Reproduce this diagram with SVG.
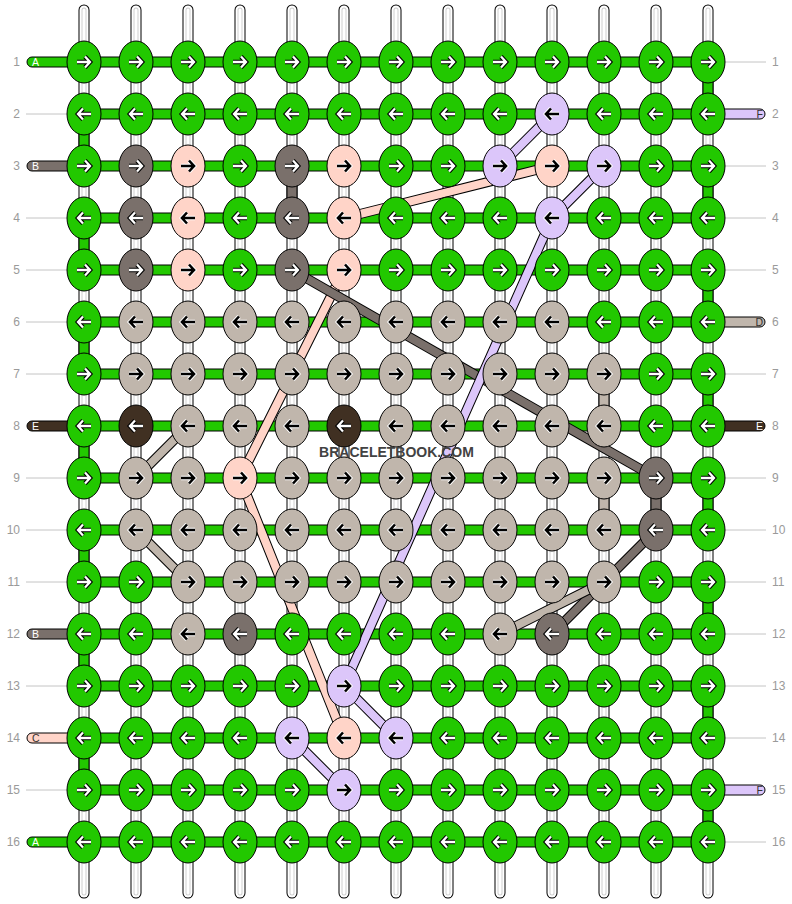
<svg xmlns="http://www.w3.org/2000/svg" xmlns:xlink="http://www.w3.org/1999/xlink" width="792" height="904" viewBox="0 0 792 904">
<style>
text{font-family:"Liberation Sans",Arial,sans-serif}
.num{font-size:12px;fill:#9a9a9a}
.sl{font-size:10.5px}
.ln{stroke:#c4c4c4;stroke-width:1}
.G{fill:#22c800}.B{fill:#7a706b}.C{fill:#ffd4c8}.D{fill:#c0b6ac}.E{fill:#403022}.F{fill:#dcc6fa}
.o{fill:none;stroke:#000;stroke-width:10}
.cB{fill:none;stroke:#7a706b;stroke-width:8}.cC{fill:none;stroke:#ffd4c8;stroke-width:8}.cD{fill:none;stroke:#c0b6ac;stroke-width:8}.cF{fill:none;stroke:#dcc6fa;stroke-width:8}
.wm{font-size:14px;font-weight:bold;fill:#424242}
</style>
<defs>
<g id="vs"><line x1="0" x2="0" y1="10" y2="893" stroke="#000" stroke-width="11" stroke-linecap="round"/><line x1="0" x2="0" y1="10" y2="893" stroke="#fff" stroke-width="9" stroke-linecap="round"/><line x1="0" x2="0" y1="10" y2="893" stroke="#cfcfcf" stroke-width="5" stroke-linecap="round"/><line x1="0" x2="0" y1="10" y2="893" stroke="#fff" stroke-width="3" stroke-linecap="round"/></g>
<rect id="vc" x="-5" y="0" width="10" height="52" stroke="#000" stroke-width="1"/>
<rect id="hb" x="84" y="-5" width="624" height="10" stroke="#000" stroke-width="1"/>
<path id="sL" d="M84,-5H32a5,5 0 0 0 0,10H84z" stroke="#000" stroke-width="1"/>
<path id="sR" d="M708,-5H760a5,5 0 0 1 0,10H708z" stroke="#000" stroke-width="1"/>
<ellipse id="kn" cx="0" cy="0" rx="17" ry="21" stroke="#000" stroke-width="1"/>
<path id="pr" d="M-7,0H5M1,-5.5L6,0L1,5.5" fill="none"/>
<path id="pl" d="M7,0H-5M-1,-5.5L-6,0L-1,5.5" fill="none"/>
<g id="rW"><use href="#pr" stroke="#000" stroke-width="4.5"/><use href="#pr" stroke="#fff" stroke-width="2.3"/></g>
<g id="rK"><use href="#pr" stroke="#fff" stroke-width="4.5"/><use href="#pr" stroke="#000" stroke-width="2.6"/></g>
<g id="lW"><use href="#pl" stroke="#000" stroke-width="4.5"/><use href="#pl" stroke="#fff" stroke-width="2.3"/></g>
<g id="lK"><use href="#pl" stroke="#fff" stroke-width="4.5"/><use href="#pl" stroke="#000" stroke-width="2.6"/></g>
</defs>
<rect width="792" height="904" fill="#fff"/>
<g id="strings">
<use href="#vs" x="84"/><use href="#vs" x="136"/><use href="#vs" x="188"/><use href="#vs" x="240"/><use href="#vs" x="292"/><use href="#vs" x="344"/><use href="#vs" x="396"/><use href="#vs" x="448"/><use href="#vs" x="500"/><use href="#vs" x="552"/><use href="#vs" x="604"/><use href="#vs" x="656"/><use href="#vs" x="708"/>
</g>
<g id="turns">
<use href="#vc" class="G" x="708" y="62"/><use href="#vc" class="G" x="708" y="166"/><use href="#vc" class="G" x="708" y="270"/><use href="#vc" class="G" x="708" y="374"/><use href="#vc" class="G" x="708" y="478"/><use href="#vc" class="G" x="708" y="582"/><use href="#vc" class="G" x="708" y="686"/><use href="#vc" class="G" x="708" y="790"/>
<use href="#vc" class="G" x="84" y="114"/><use href="#vc" class="G" x="84" y="218"/><use href="#vc" class="G" x="84" y="322"/><use href="#vc" class="G" x="84" y="426"/><use href="#vc" class="G" x="84" y="530"/><use href="#vc" class="G" x="84" y="634"/><use href="#vc" class="G" x="84" y="738"/>
<use href="#vc" class="B" x="292" y="166"/><use href="#vc" class="D" x="604" y="374"/><use href="#vc" class="D" x="604" y="478"/><use href="#vc" class="B" x="656" y="478"/>
</g>
<g id="rows">
<use href="#hb" class="G" y="62"/><use href="#hb" class="G" y="114"/><use href="#hb" class="G" y="166"/><use href="#hb" class="G" y="218"/><use href="#hb" class="G" y="270"/><use href="#hb" class="G" y="322"/><use href="#hb" class="G" y="374"/><use href="#hb" class="G" y="426"/><use href="#hb" class="G" y="478"/><use href="#hb" class="G" y="530"/><use href="#hb" class="G" y="582"/><use href="#hb" class="G" y="634"/><use href="#hb" class="G" y="686"/><use href="#hb" class="G" y="738"/><use href="#hb" class="G" y="790"/><use href="#hb" class="G" y="842"/>
</g>
<g id="stubs">
<use href="#sL" class="G" y="62"/><use href="#sL" class="B" y="166"/><use href="#sL" class="E" y="426"/><use href="#sL" class="B" y="634"/><use href="#sL" class="C" y="738"/><use href="#sL" class="G" y="842"/>
<use href="#sR" class="F" y="114"/><use href="#sR" class="D" y="322"/><use href="#sR" class="E" y="426"/><use href="#sR" class="F" y="790"/>
<text class="sl" x="32" y="66" fill="#fff">A</text><text class="sl" x="32" y="170" fill="#fff">B</text><text class="sl" x="32" y="430" fill="#fff">E</text><text class="sl" x="32" y="638" fill="#fff">B</text><text class="sl" x="32" y="742" fill="#333">C</text><text class="sl" x="32" y="846" fill="#fff">A</text>
<text class="sl" x="763" y="118" fill="#333" text-anchor="end">F</text><text class="sl" x="763" y="326" fill="#333" text-anchor="end">D</text><text class="sl" x="763" y="430" fill="#fff" text-anchor="end">E</text><text class="sl" x="763" y="794" fill="#333" text-anchor="end">F</text>
</g>
<g id="rowlines">
<path class="ln" d="M26,114H67M26,218H67M26,270H67M26,322H67M26,374H67M26,478H67M26,530H67M26,582H67M26,686H67M26,790H67"/>
<path class="ln" d="M725,62H766M725,166H766M725,218H766M725,270H766M725,374H766M725,478H766M725,530H766M725,582H766M725,634H766M725,686H766M725,738H766M725,842H766"/>
</g>
<g id="rownumbers">
<text class="num" x="20" y="66" text-anchor="end">1</text><text class="num" x="20" y="118" text-anchor="end">2</text><text class="num" x="20" y="170" text-anchor="end">3</text><text class="num" x="20" y="222" text-anchor="end">4</text><text class="num" x="20" y="274" text-anchor="end">5</text><text class="num" x="20" y="326" text-anchor="end">6</text><text class="num" x="20" y="378" text-anchor="end">7</text><text class="num" x="20" y="430" text-anchor="end">8</text><text class="num" x="20" y="482" text-anchor="end">9</text><text class="num" x="20" y="534" text-anchor="end">10</text><text class="num" x="20" y="586" text-anchor="end">11</text><text class="num" x="20" y="638" text-anchor="end">12</text><text class="num" x="20" y="690" text-anchor="end">13</text><text class="num" x="20" y="742" text-anchor="end">14</text><text class="num" x="20" y="794" text-anchor="end">15</text><text class="num" x="20" y="846" text-anchor="end">16</text>
<text class="num" x="772" y="66">1</text><text class="num" x="772" y="118">2</text><text class="num" x="772" y="170">3</text><text class="num" x="772" y="222">4</text><text class="num" x="772" y="274">5</text><text class="num" x="772" y="326">6</text><text class="num" x="772" y="378">7</text><text class="num" x="772" y="430">8</text><text class="num" x="772" y="482">9</text><text class="num" x="772" y="534">10</text><text class="num" x="772" y="586">11</text><text class="num" x="772" y="638">12</text><text class="num" x="772" y="690">13</text><text class="num" x="772" y="742">14</text><text class="num" x="772" y="794">15</text><text class="num" x="772" y="846">16</text>
</g>
<g id="connectors">
<path class="o" d="M552,166L344,218"/><path class="cC" d="M552,166L344,218"/>
<path class="o" d="M344,270L240,478L344,738"/><path class="cC" d="M344,270L240,478L344,738"/>
<path class="o" d="M292,270L656,478"/><path class="cB" d="M292,270L656,478"/>
<path class="o" d="M656,530L552,634"/><path class="cB" d="M656,530L552,634"/>
<path class="o" d="M188,426L136,478"/><path class="cD" d="M188,426L136,478"/>
<path class="o" d="M136,530L188,582"/><path class="cD" d="M136,530L188,582"/>
<path class="o" d="M604,582L500,634"/><path class="cD" d="M604,582L500,634"/>
<path class="o" d="M552,114L500,166"/><path class="cF" d="M552,114L500,166"/>
<path class="o" d="M604,166L552,218L344,686L396,738"/><path class="cF" d="M604,166L552,218L344,686L396,738"/>
<path class="o" d="M292,738L344,790"/><path class="cF" d="M292,738L344,790"/>
</g>
<g id="knots">
<g id="k1-1" class="G" transform="translate(84,62)"><use href="#kn"/><use href="#rW"/></g>
<g id="k1-2" class="G" transform="translate(136,62)"><use href="#kn"/><use href="#rW"/></g>
<g id="k1-3" class="G" transform="translate(188,62)"><use href="#kn"/><use href="#rW"/></g>
<g id="k1-4" class="G" transform="translate(240,62)"><use href="#kn"/><use href="#rW"/></g>
<g id="k1-5" class="G" transform="translate(292,62)"><use href="#kn"/><use href="#rW"/></g>
<g id="k1-6" class="G" transform="translate(344,62)"><use href="#kn"/><use href="#rW"/></g>
<g id="k1-7" class="G" transform="translate(396,62)"><use href="#kn"/><use href="#rW"/></g>
<g id="k1-8" class="G" transform="translate(448,62)"><use href="#kn"/><use href="#rW"/></g>
<g id="k1-9" class="G" transform="translate(500,62)"><use href="#kn"/><use href="#rW"/></g>
<g id="k1-10" class="G" transform="translate(552,62)"><use href="#kn"/><use href="#rW"/></g>
<g id="k1-11" class="G" transform="translate(604,62)"><use href="#kn"/><use href="#rW"/></g>
<g id="k1-12" class="G" transform="translate(656,62)"><use href="#kn"/><use href="#rW"/></g>
<g id="k1-13" class="G" transform="translate(708,62)"><use href="#kn"/><use href="#rW"/></g>
<g id="k2-1" class="G" transform="translate(84,114)"><use href="#kn"/><use href="#lW"/></g>
<g id="k2-2" class="G" transform="translate(136,114)"><use href="#kn"/><use href="#lW"/></g>
<g id="k2-3" class="G" transform="translate(188,114)"><use href="#kn"/><use href="#lW"/></g>
<g id="k2-4" class="G" transform="translate(240,114)"><use href="#kn"/><use href="#lW"/></g>
<g id="k2-5" class="G" transform="translate(292,114)"><use href="#kn"/><use href="#lW"/></g>
<g id="k2-6" class="G" transform="translate(344,114)"><use href="#kn"/><use href="#lW"/></g>
<g id="k2-7" class="G" transform="translate(396,114)"><use href="#kn"/><use href="#lW"/></g>
<g id="k2-8" class="G" transform="translate(448,114)"><use href="#kn"/><use href="#lW"/></g>
<g id="k2-9" class="G" transform="translate(500,114)"><use href="#kn"/><use href="#lW"/></g>
<g id="k2-10" class="F" transform="translate(552,114)"><use href="#kn"/><use href="#lK"/></g>
<g id="k2-11" class="G" transform="translate(604,114)"><use href="#kn"/><use href="#lW"/></g>
<g id="k2-12" class="G" transform="translate(656,114)"><use href="#kn"/><use href="#lW"/></g>
<g id="k2-13" class="G" transform="translate(708,114)"><use href="#kn"/><use href="#lW"/></g>
<g id="k3-1" class="G" transform="translate(84,166)"><use href="#kn"/><use href="#rW"/></g>
<g id="k3-2" class="B" transform="translate(136,166)"><use href="#kn"/><use href="#rW"/></g>
<g id="k3-3" class="C" transform="translate(188,166)"><use href="#kn"/><use href="#rK"/></g>
<g id="k3-4" class="G" transform="translate(240,166)"><use href="#kn"/><use href="#rW"/></g>
<g id="k3-5" class="B" transform="translate(292,166)"><use href="#kn"/><use href="#rW"/></g>
<g id="k3-6" class="C" transform="translate(344,166)"><use href="#kn"/><use href="#rK"/></g>
<g id="k3-7" class="G" transform="translate(396,166)"><use href="#kn"/><use href="#rW"/></g>
<g id="k3-8" class="G" transform="translate(448,166)"><use href="#kn"/><use href="#rW"/></g>
<g id="k3-9" class="F" transform="translate(500,166)"><use href="#kn"/><use href="#rK"/></g>
<g id="k3-10" class="C" transform="translate(552,166)"><use href="#kn"/><use href="#rK"/></g>
<g id="k3-11" class="F" transform="translate(604,166)"><use href="#kn"/><use href="#rK"/></g>
<g id="k3-12" class="G" transform="translate(656,166)"><use href="#kn"/><use href="#rW"/></g>
<g id="k3-13" class="G" transform="translate(708,166)"><use href="#kn"/><use href="#rW"/></g>
<g id="k4-1" class="G" transform="translate(84,218)"><use href="#kn"/><use href="#lW"/></g>
<g id="k4-2" class="B" transform="translate(136,218)"><use href="#kn"/><use href="#lW"/></g>
<g id="k4-3" class="C" transform="translate(188,218)"><use href="#kn"/><use href="#lK"/></g>
<g id="k4-4" class="G" transform="translate(240,218)"><use href="#kn"/><use href="#lW"/></g>
<g id="k4-5" class="B" transform="translate(292,218)"><use href="#kn"/><use href="#lW"/></g>
<g id="k4-6" class="C" transform="translate(344,218)"><use href="#kn"/><use href="#lK"/></g>
<g id="k4-7" class="G" transform="translate(396,218)"><use href="#kn"/><use href="#lW"/></g>
<g id="k4-8" class="G" transform="translate(448,218)"><use href="#kn"/><use href="#lW"/></g>
<g id="k4-9" class="G" transform="translate(500,218)"><use href="#kn"/><use href="#lW"/></g>
<g id="k4-10" class="F" transform="translate(552,218)"><use href="#kn"/><use href="#lK"/></g>
<g id="k4-11" class="G" transform="translate(604,218)"><use href="#kn"/><use href="#lW"/></g>
<g id="k4-12" class="G" transform="translate(656,218)"><use href="#kn"/><use href="#lW"/></g>
<g id="k4-13" class="G" transform="translate(708,218)"><use href="#kn"/><use href="#lW"/></g>
<g id="k5-1" class="G" transform="translate(84,270)"><use href="#kn"/><use href="#rW"/></g>
<g id="k5-2" class="B" transform="translate(136,270)"><use href="#kn"/><use href="#rW"/></g>
<g id="k5-3" class="C" transform="translate(188,270)"><use href="#kn"/><use href="#rK"/></g>
<g id="k5-4" class="G" transform="translate(240,270)"><use href="#kn"/><use href="#rW"/></g>
<g id="k5-5" class="B" transform="translate(292,270)"><use href="#kn"/><use href="#rW"/></g>
<g id="k5-6" class="C" transform="translate(344,270)"><use href="#kn"/><use href="#rK"/></g>
<g id="k5-7" class="G" transform="translate(396,270)"><use href="#kn"/><use href="#rW"/></g>
<g id="k5-8" class="G" transform="translate(448,270)"><use href="#kn"/><use href="#rW"/></g>
<g id="k5-9" class="G" transform="translate(500,270)"><use href="#kn"/><use href="#rW"/></g>
<g id="k5-10" class="G" transform="translate(552,270)"><use href="#kn"/><use href="#rW"/></g>
<g id="k5-11" class="G" transform="translate(604,270)"><use href="#kn"/><use href="#rW"/></g>
<g id="k5-12" class="G" transform="translate(656,270)"><use href="#kn"/><use href="#rW"/></g>
<g id="k5-13" class="G" transform="translate(708,270)"><use href="#kn"/><use href="#rW"/></g>
<g id="k6-1" class="G" transform="translate(84,322)"><use href="#kn"/><use href="#lW"/></g>
<g id="k6-2" class="D" transform="translate(136,322)"><use href="#kn"/><use href="#lK"/></g>
<g id="k6-3" class="D" transform="translate(188,322)"><use href="#kn"/><use href="#lK"/></g>
<g id="k6-4" class="D" transform="translate(240,322)"><use href="#kn"/><use href="#lK"/></g>
<g id="k6-5" class="D" transform="translate(292,322)"><use href="#kn"/><use href="#lK"/></g>
<g id="k6-6" class="D" transform="translate(344,322)"><use href="#kn"/><use href="#lK"/></g>
<g id="k6-7" class="D" transform="translate(396,322)"><use href="#kn"/><use href="#lK"/></g>
<g id="k6-8" class="D" transform="translate(448,322)"><use href="#kn"/><use href="#lK"/></g>
<g id="k6-9" class="D" transform="translate(500,322)"><use href="#kn"/><use href="#lK"/></g>
<g id="k6-10" class="D" transform="translate(552,322)"><use href="#kn"/><use href="#lK"/></g>
<g id="k6-11" class="G" transform="translate(604,322)"><use href="#kn"/><use href="#lW"/></g>
<g id="k6-12" class="G" transform="translate(656,322)"><use href="#kn"/><use href="#lW"/></g>
<g id="k6-13" class="G" transform="translate(708,322)"><use href="#kn"/><use href="#lW"/></g>
<g id="k7-1" class="G" transform="translate(84,374)"><use href="#kn"/><use href="#rW"/></g>
<g id="k7-2" class="D" transform="translate(136,374)"><use href="#kn"/><use href="#rK"/></g>
<g id="k7-3" class="D" transform="translate(188,374)"><use href="#kn"/><use href="#rK"/></g>
<g id="k7-4" class="D" transform="translate(240,374)"><use href="#kn"/><use href="#rK"/></g>
<g id="k7-5" class="D" transform="translate(292,374)"><use href="#kn"/><use href="#rK"/></g>
<g id="k7-6" class="D" transform="translate(344,374)"><use href="#kn"/><use href="#rK"/></g>
<g id="k7-7" class="D" transform="translate(396,374)"><use href="#kn"/><use href="#rK"/></g>
<g id="k7-8" class="D" transform="translate(448,374)"><use href="#kn"/><use href="#rK"/></g>
<g id="k7-9" class="D" transform="translate(500,374)"><use href="#kn"/><use href="#rK"/></g>
<g id="k7-10" class="D" transform="translate(552,374)"><use href="#kn"/><use href="#rK"/></g>
<g id="k7-11" class="D" transform="translate(604,374)"><use href="#kn"/><use href="#rK"/></g>
<g id="k7-12" class="G" transform="translate(656,374)"><use href="#kn"/><use href="#rW"/></g>
<g id="k7-13" class="G" transform="translate(708,374)"><use href="#kn"/><use href="#rW"/></g>
<g id="k8-1" class="G" transform="translate(84,426)"><use href="#kn"/><use href="#lW"/></g>
<g id="k8-2" class="E" transform="translate(136,426)"><use href="#kn"/><use href="#lW"/></g>
<g id="k8-3" class="D" transform="translate(188,426)"><use href="#kn"/><use href="#lK"/></g>
<g id="k8-4" class="D" transform="translate(240,426)"><use href="#kn"/><use href="#lK"/></g>
<g id="k8-5" class="D" transform="translate(292,426)"><use href="#kn"/><use href="#lK"/></g>
<g id="k8-6" class="E" transform="translate(344,426)"><use href="#kn"/><use href="#lW"/></g>
<g id="k8-7" class="D" transform="translate(396,426)"><use href="#kn"/><use href="#lK"/></g>
<g id="k8-8" class="D" transform="translate(448,426)"><use href="#kn"/><use href="#lK"/></g>
<g id="k8-9" class="D" transform="translate(500,426)"><use href="#kn"/><use href="#lK"/></g>
<g id="k8-10" class="D" transform="translate(552,426)"><use href="#kn"/><use href="#lK"/></g>
<g id="k8-11" class="D" transform="translate(604,426)"><use href="#kn"/><use href="#lK"/></g>
<g id="k8-12" class="G" transform="translate(656,426)"><use href="#kn"/><use href="#lW"/></g>
<g id="k8-13" class="G" transform="translate(708,426)"><use href="#kn"/><use href="#lW"/></g>
<g id="k9-1" class="G" transform="translate(84,478)"><use href="#kn"/><use href="#rW"/></g>
<g id="k9-2" class="D" transform="translate(136,478)"><use href="#kn"/><use href="#rK"/></g>
<g id="k9-3" class="D" transform="translate(188,478)"><use href="#kn"/><use href="#rK"/></g>
<g id="k9-4" class="C" transform="translate(240,478)"><use href="#kn"/><use href="#rK"/></g>
<g id="k9-5" class="D" transform="translate(292,478)"><use href="#kn"/><use href="#rK"/></g>
<g id="k9-6" class="D" transform="translate(344,478)"><use href="#kn"/><use href="#rK"/></g>
<g id="k9-7" class="D" transform="translate(396,478)"><use href="#kn"/><use href="#rK"/></g>
<g id="k9-8" class="D" transform="translate(448,478)"><use href="#kn"/><use href="#rK"/></g>
<g id="k9-9" class="D" transform="translate(500,478)"><use href="#kn"/><use href="#rK"/></g>
<g id="k9-10" class="D" transform="translate(552,478)"><use href="#kn"/><use href="#rK"/></g>
<g id="k9-11" class="D" transform="translate(604,478)"><use href="#kn"/><use href="#rK"/></g>
<g id="k9-12" class="B" transform="translate(656,478)"><use href="#kn"/><use href="#rW"/></g>
<g id="k9-13" class="G" transform="translate(708,478)"><use href="#kn"/><use href="#rW"/></g>
<g id="k10-1" class="G" transform="translate(84,530)"><use href="#kn"/><use href="#lW"/></g>
<g id="k10-2" class="D" transform="translate(136,530)"><use href="#kn"/><use href="#lK"/></g>
<g id="k10-3" class="D" transform="translate(188,530)"><use href="#kn"/><use href="#lK"/></g>
<g id="k10-4" class="D" transform="translate(240,530)"><use href="#kn"/><use href="#lK"/></g>
<g id="k10-5" class="D" transform="translate(292,530)"><use href="#kn"/><use href="#lK"/></g>
<g id="k10-6" class="D" transform="translate(344,530)"><use href="#kn"/><use href="#lK"/></g>
<g id="k10-7" class="D" transform="translate(396,530)"><use href="#kn"/><use href="#lK"/></g>
<g id="k10-8" class="D" transform="translate(448,530)"><use href="#kn"/><use href="#lK"/></g>
<g id="k10-9" class="D" transform="translate(500,530)"><use href="#kn"/><use href="#lK"/></g>
<g id="k10-10" class="D" transform="translate(552,530)"><use href="#kn"/><use href="#lK"/></g>
<g id="k10-11" class="D" transform="translate(604,530)"><use href="#kn"/><use href="#lK"/></g>
<g id="k10-12" class="B" transform="translate(656,530)"><use href="#kn"/><use href="#lW"/></g>
<g id="k10-13" class="G" transform="translate(708,530)"><use href="#kn"/><use href="#lW"/></g>
<g id="k11-1" class="G" transform="translate(84,582)"><use href="#kn"/><use href="#rW"/></g>
<g id="k11-2" class="G" transform="translate(136,582)"><use href="#kn"/><use href="#rW"/></g>
<g id="k11-3" class="D" transform="translate(188,582)"><use href="#kn"/><use href="#rK"/></g>
<g id="k11-4" class="D" transform="translate(240,582)"><use href="#kn"/><use href="#rK"/></g>
<g id="k11-5" class="D" transform="translate(292,582)"><use href="#kn"/><use href="#rK"/></g>
<g id="k11-6" class="D" transform="translate(344,582)"><use href="#kn"/><use href="#rK"/></g>
<g id="k11-7" class="D" transform="translate(396,582)"><use href="#kn"/><use href="#rK"/></g>
<g id="k11-8" class="D" transform="translate(448,582)"><use href="#kn"/><use href="#rK"/></g>
<g id="k11-9" class="D" transform="translate(500,582)"><use href="#kn"/><use href="#rK"/></g>
<g id="k11-10" class="D" transform="translate(552,582)"><use href="#kn"/><use href="#rK"/></g>
<g id="k11-11" class="D" transform="translate(604,582)"><use href="#kn"/><use href="#rK"/></g>
<g id="k11-12" class="G" transform="translate(656,582)"><use href="#kn"/><use href="#rW"/></g>
<g id="k11-13" class="G" transform="translate(708,582)"><use href="#kn"/><use href="#rW"/></g>
<g id="k12-1" class="G" transform="translate(84,634)"><use href="#kn"/><use href="#lW"/></g>
<g id="k12-2" class="G" transform="translate(136,634)"><use href="#kn"/><use href="#lW"/></g>
<g id="k12-3" class="D" transform="translate(188,634)"><use href="#kn"/><use href="#lK"/></g>
<g id="k12-4" class="B" transform="translate(240,634)"><use href="#kn"/><use href="#lW"/></g>
<g id="k12-5" class="G" transform="translate(292,634)"><use href="#kn"/><use href="#lW"/></g>
<g id="k12-6" class="G" transform="translate(344,634)"><use href="#kn"/><use href="#lW"/></g>
<g id="k12-7" class="G" transform="translate(396,634)"><use href="#kn"/><use href="#lW"/></g>
<g id="k12-8" class="G" transform="translate(448,634)"><use href="#kn"/><use href="#lW"/></g>
<g id="k12-9" class="D" transform="translate(500,634)"><use href="#kn"/><use href="#lK"/></g>
<g id="k12-10" class="B" transform="translate(552,634)"><use href="#kn"/><use href="#lW"/></g>
<g id="k12-11" class="G" transform="translate(604,634)"><use href="#kn"/><use href="#lW"/></g>
<g id="k12-12" class="G" transform="translate(656,634)"><use href="#kn"/><use href="#lW"/></g>
<g id="k12-13" class="G" transform="translate(708,634)"><use href="#kn"/><use href="#lW"/></g>
<g id="k13-1" class="G" transform="translate(84,686)"><use href="#kn"/><use href="#rW"/></g>
<g id="k13-2" class="G" transform="translate(136,686)"><use href="#kn"/><use href="#rW"/></g>
<g id="k13-3" class="G" transform="translate(188,686)"><use href="#kn"/><use href="#rW"/></g>
<g id="k13-4" class="G" transform="translate(240,686)"><use href="#kn"/><use href="#rW"/></g>
<g id="k13-5" class="G" transform="translate(292,686)"><use href="#kn"/><use href="#rW"/></g>
<g id="k13-6" class="F" transform="translate(344,686)"><use href="#kn"/><use href="#rK"/></g>
<g id="k13-7" class="G" transform="translate(396,686)"><use href="#kn"/><use href="#rW"/></g>
<g id="k13-8" class="G" transform="translate(448,686)"><use href="#kn"/><use href="#rW"/></g>
<g id="k13-9" class="G" transform="translate(500,686)"><use href="#kn"/><use href="#rW"/></g>
<g id="k13-10" class="G" transform="translate(552,686)"><use href="#kn"/><use href="#rW"/></g>
<g id="k13-11" class="G" transform="translate(604,686)"><use href="#kn"/><use href="#rW"/></g>
<g id="k13-12" class="G" transform="translate(656,686)"><use href="#kn"/><use href="#rW"/></g>
<g id="k13-13" class="G" transform="translate(708,686)"><use href="#kn"/><use href="#rW"/></g>
<g id="k14-1" class="G" transform="translate(84,738)"><use href="#kn"/><use href="#lW"/></g>
<g id="k14-2" class="G" transform="translate(136,738)"><use href="#kn"/><use href="#lW"/></g>
<g id="k14-3" class="G" transform="translate(188,738)"><use href="#kn"/><use href="#lW"/></g>
<g id="k14-4" class="G" transform="translate(240,738)"><use href="#kn"/><use href="#lW"/></g>
<g id="k14-5" class="F" transform="translate(292,738)"><use href="#kn"/><use href="#lK"/></g>
<g id="k14-6" class="C" transform="translate(344,738)"><use href="#kn"/><use href="#lK"/></g>
<g id="k14-7" class="F" transform="translate(396,738)"><use href="#kn"/><use href="#lK"/></g>
<g id="k14-8" class="G" transform="translate(448,738)"><use href="#kn"/><use href="#lW"/></g>
<g id="k14-9" class="G" transform="translate(500,738)"><use href="#kn"/><use href="#lW"/></g>
<g id="k14-10" class="G" transform="translate(552,738)"><use href="#kn"/><use href="#lW"/></g>
<g id="k14-11" class="G" transform="translate(604,738)"><use href="#kn"/><use href="#lW"/></g>
<g id="k14-12" class="G" transform="translate(656,738)"><use href="#kn"/><use href="#lW"/></g>
<g id="k14-13" class="G" transform="translate(708,738)"><use href="#kn"/><use href="#lW"/></g>
<g id="k15-1" class="G" transform="translate(84,790)"><use href="#kn"/><use href="#rW"/></g>
<g id="k15-2" class="G" transform="translate(136,790)"><use href="#kn"/><use href="#rW"/></g>
<g id="k15-3" class="G" transform="translate(188,790)"><use href="#kn"/><use href="#rW"/></g>
<g id="k15-4" class="G" transform="translate(240,790)"><use href="#kn"/><use href="#rW"/></g>
<g id="k15-5" class="G" transform="translate(292,790)"><use href="#kn"/><use href="#rW"/></g>
<g id="k15-6" class="F" transform="translate(344,790)"><use href="#kn"/><use href="#rK"/></g>
<g id="k15-7" class="G" transform="translate(396,790)"><use href="#kn"/><use href="#rW"/></g>
<g id="k15-8" class="G" transform="translate(448,790)"><use href="#kn"/><use href="#rW"/></g>
<g id="k15-9" class="G" transform="translate(500,790)"><use href="#kn"/><use href="#rW"/></g>
<g id="k15-10" class="G" transform="translate(552,790)"><use href="#kn"/><use href="#rW"/></g>
<g id="k15-11" class="G" transform="translate(604,790)"><use href="#kn"/><use href="#rW"/></g>
<g id="k15-12" class="G" transform="translate(656,790)"><use href="#kn"/><use href="#rW"/></g>
<g id="k15-13" class="G" transform="translate(708,790)"><use href="#kn"/><use href="#rW"/></g>
<g id="k16-1" class="G" transform="translate(84,842)"><use href="#kn"/><use href="#lW"/></g>
<g id="k16-2" class="G" transform="translate(136,842)"><use href="#kn"/><use href="#lW"/></g>
<g id="k16-3" class="G" transform="translate(188,842)"><use href="#kn"/><use href="#lW"/></g>
<g id="k16-4" class="G" transform="translate(240,842)"><use href="#kn"/><use href="#lW"/></g>
<g id="k16-5" class="G" transform="translate(292,842)"><use href="#kn"/><use href="#lW"/></g>
<g id="k16-6" class="G" transform="translate(344,842)"><use href="#kn"/><use href="#lW"/></g>
<g id="k16-7" class="G" transform="translate(396,842)"><use href="#kn"/><use href="#lW"/></g>
<g id="k16-8" class="G" transform="translate(448,842)"><use href="#kn"/><use href="#lW"/></g>
<g id="k16-9" class="G" transform="translate(500,842)"><use href="#kn"/><use href="#lW"/></g>
<g id="k16-10" class="G" transform="translate(552,842)"><use href="#kn"/><use href="#lW"/></g>
<g id="k16-11" class="G" transform="translate(604,842)"><use href="#kn"/><use href="#lW"/></g>
<g id="k16-12" class="G" transform="translate(656,842)"><use href="#kn"/><use href="#lW"/></g>
<g id="k16-13" class="G" transform="translate(708,842)"><use href="#kn"/><use href="#lW"/></g>
</g>
<text class="wm" x="396.5" y="457" text-anchor="middle">BRACELETBOOK.COM</text>
</svg>
